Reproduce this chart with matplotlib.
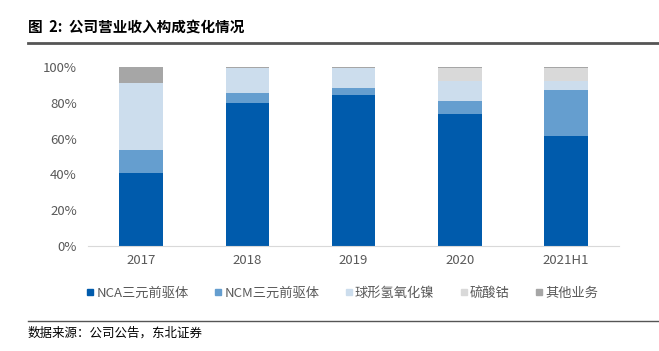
import matplotlib.pyplot as plt
from matplotlib.lines import Line2D
import numpy as np

plt.rcParams['font.family'] = ['Noto Sans CJK SC', 'DejaVu Sans']

years = ["2017", "2018", "2019", "2020", "2021H1"]
series_names = ["NCA三元前驱体", "NCM三元前驱体", "球形氢氧化镍", "硫酸钴", "其他业务"]
nca = [40.6, 80.0, 84.2, 73.6, 61.6]
ncm = [13.0, 5.6, 3.9, 7.6, 25.4]
nickel = [37.6, 13.7, 11.5, 11.1, 5.2]
cobalt = [0.0, 0.0, 0.0, 7.3, 7.4]
other = [8.8, 0.7, 0.4, 0.4, 0.4]
colors = ["#005BAC", "#659ECF", "#CCDDED", "#D9D9D9", "#A6A6A6"]

fig = plt.figure(figsize=(6.59, 3.51), dpi=100)
ax = fig.add_axes([0.1335, 0.299, 0.806, 0.51])

x = np.arange(len(years))
bottom = np.zeros(len(years))
for vals, c in zip([nca, ncm, nickel, cobalt, other], colors):
    ax.bar(x, vals, 0.41, bottom=bottom, color=c)
    bottom += np.array(vals)

ax.set_xlim(-0.5, len(years) - 0.5)
ax.set_ylim(0, 100)
ax.set_yticks(range(0, 101, 20))
ax.set_yticklabels([f"{v}%" for v in range(0, 101, 20)])
ax.set_xticks(x)
ax.set_xticklabels(years)
ax.tick_params(length=0, labelsize=9.5, colors="#595959", pad=6)
ax.tick_params(axis="y", pad=8)
for s in ["top", "right", "left"]:
    ax.spines[s].set_visible(False)
ax.spines["bottom"].set_color("#D9D9D9")

handles = [Line2D([], [], marker="s", linestyle="", color=c, markersize=5) for c in colors]
fig.legend(handles, series_names, loc="center", bbox_to_anchor=(0.52, 0.165), ncol=5,
           frameon=False, fontsize=9.5, handlelength=0.5, handletextpad=0.2,
           columnspacing=2.0, labelcolor="#595959")

fig.text(0.042, 0.923, "图  2:  公司营业收入构成变化情况", fontsize=10.5, fontweight="bold",
         va="center", ha="left")
fig.add_artist(Line2D([0.042, 1.0], [0.877, 0.877], color="#555555", linewidth=2))
fig.add_artist(Line2D([0.042, 1.0], [0.085, 0.085], color="#555555", linewidth=1))
fig.text(0.042, 0.05, "数据来源：公司公告，东北证券", fontsize=9, va="center", ha="left")

fig.savefig("out.png", dpi=100)
